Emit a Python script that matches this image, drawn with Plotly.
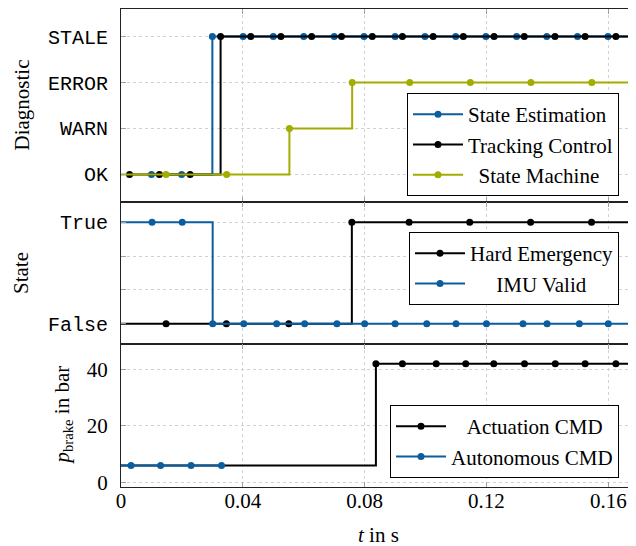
import plotly.graph_objects as go

# ---------------- data ----------------
# Diagnostic panel: 0=OK, 1=WARN, 2=ERROR, 3=STALE
diag_ticktext = ["OK", "WARN", "ERROR", "STALE"]

t_state_est = [0.0100, 0.0199, 0.0300, 0.0401, 0.0500, 0.0600, 0.0700, 0.0798, 0.0900,
               0.0998, 0.1099, 0.1198, 0.1299, 0.1398, 0.1499, 0.1599, 0.1699]
diag_state_est = [0, 0, 3, 3, 3, 3, 3, 3, 3, 3, 3, 3, 3, 3, 3, 3, 3]

t_tracking = [0.0028, 0.0126, 0.0227, 0.0327, 0.0426, 0.0525, 0.0626, 0.0724, 0.0825,
              0.0924, 0.1025, 0.1124, 0.1225, 0.1324, 0.1425, 0.1524, 0.1625, 0.1725]
diag_tracking = [0, 0, 0, 3, 3, 3, 3, 3, 3, 3, 3, 3, 3, 3, 3, 3, 3, 3]

t_state_machine = [-0.0052, 0.0148, 0.0347, 0.0553, 0.0759, 0.0948, 0.1147, 0.1346, 0.1546, 0.1746]
diag_state_machine = [0, 0, 0, 1, 2, 2, 2, 2, 2, 2]

# State panel: 0=False, 1=True
state_tickvals = [0, 1]
state_ticktext = ["False", "True"]
state_minor_grid = [1 / 3, 2 / 3]

t_hard_emergency = [-0.0052, 0.0148, 0.0346, 0.0551, 0.0758, 0.0946, 0.1145, 0.1345, 0.1545, 0.1745]
state_hard_emergency = [0, 0, 0, 0, 1, 1, 1, 1, 1, 1]

t_imu_valid = [-0.0098, 0.0102, 0.0201, 0.0301, 0.0403, 0.0511, 0.0603, 0.0709, 0.0800,
               0.0900, 0.1004, 0.1100, 0.1200, 0.1320, 0.1399, 0.1505, 0.1600, 0.1697]
state_imu_valid = [1, 1, 1, 0, 0, 0, 0, 0, 0, 0, 0, 0, 0, 0, 0, 0, 0, 0]

# Brake pressure panel (bar)
t_actuation = [-0.0067, 0.0837, 0.0924, 0.1035, 0.1132, 0.1224, 0.1325, 0.1426, 0.1524, 0.1625, 0.1725]
p_actuation = [6, 42, 42, 42, 42, 42, 42, 42, 42, 42, 42]

t_autonomous = [-0.0067, 0.0033, 0.0130, 0.0230, 0.0330]
p_autonomous = [6, 6, 6, 6, 6]

x_ticks = [0, 0.04, 0.08, 0.12, 0.16]
x_ticktext = ["0", "0.04", "0.08", "0.12", "0.16"]
p_ticks = [0, 20, 40]

# ---------------- style ----------------
BLUE = "#0b5d9e"
YEL = "#a2ad00"
BLK = "#000000"
SERIF = "Liberation Serif"
MONO = "Liberation Mono"
NB = "\u00a0"

fig = go.Figure()


def add(t, v, name, color, xa, ya, legend):
    fig.add_trace(go.Scatter(
        x=t, y=v, name=name, mode="lines+markers",
        line=dict(color=color, width=2, shape="hv"),
        marker=dict(size=7, color=color),
        xaxis=xa, yaxis=ya, legend=legend, cliponaxis=True,
        hoverinfo="skip"))


add(t_state_est, diag_state_est, "State Estimation", BLUE, "x", "y", "legend")
add(t_tracking, diag_tracking, "Tracking Control", BLK, "x", "y", "legend")
add(t_state_machine, diag_state_machine, NB * 2 + "State Machine", YEL, "x", "y", "legend")

add(t_hard_emergency, state_hard_emergency, "Hard Emergency", BLK, "x2", "y2", "legend2")
add(t_imu_valid, state_imu_valid, NB * 5 + "IMU Valid", BLUE, "x2", "y2", "legend2")

add(t_actuation, p_actuation, NB * 3 + "Actuation CMD", BLK, "x3", "y3", "legend3")
add(t_autonomous, p_autonomous, "Autonomous CMD", BLUE, "x3", "y3", "legend3")

XR = [0, 0.1691]
GRID = "#d2d2d2"
TICKC = "#a0a0a0"

xbase = dict(range=XR, tickvals=x_ticks, ticktext=x_ticktext, showgrid=True, gridcolor=GRID,
             griddash="dot", gridwidth=1, showline=True, linecolor="#222", linewidth=1,
             mirror="ticks", ticks="inside", ticklen=5, tickcolor=TICKC, zeroline=False,
             tickfont=dict(family=SERIF, size=21, color="black"), domain=[0, 1])
ybase = dict(showgrid=True, gridcolor=GRID, griddash="dot", gridwidth=1, showline=True,
             linecolor="#222", linewidth=1, mirror=False, ticks="inside", ticklen=5,
             tickcolor=TICKC, zeroline=False, ticklabelstandoff=8)

H_TOP, H_MID, H_BOT = 193, 142, 143
TOT = H_TOP + H_MID + H_BOT
d1 = H_BOT / TOT
d2 = (H_BOT + H_MID) / TOT

legbase = dict(bgcolor="white", bordercolor="black", borderwidth=1,
               font=dict(family=SERIF, size=21, color="black"), itemwidth=50,
               tracegroupgap=0, xanchor="right", yanchor="bottom", x=0.967)

# page body adds an 8px offset, so the figure is 8px smaller and shifted
fig.update_layout(
    width=628, height=538,
    margin=dict(l=113, r=0, t=1, b=59),
    paper_bgcolor="white", plot_bgcolor="white",
    font=dict(family=SERIF, size=21, color="black"),
    xaxis=dict(xbase, anchor="y", showticklabels=False),
    xaxis2=dict(xbase, anchor="y2", showticklabels=False),
    xaxis3=dict(xbase, anchor="y3", showticklabels=True, ticklabelstandoff=-5),
    yaxis=dict(ybase, domain=[d2, 1], range=[-0.6, 3.6], tickvals=[0, 1, 2, 3],
               ticktext=diag_ticktext, tickfont=dict(family=MONO, size=20, color="black"),
               anchor="x"),
    yaxis2=dict(ybase, domain=[d1, d2], range=[-0.2, 1.2], tickvals=state_tickvals,
                ticktext=state_ticktext, tickfont=dict(family=MONO, size=20, color="black"),
                anchor="x2",
                minor=dict(tickvals=state_minor_grid, showgrid=True, gridcolor=GRID,
                           griddash="dot", gridwidth=1, ticks="inside", ticklen=5,
                           tickcolor=TICKC)),
    yaxis3=dict(ybase, domain=[0, d1], range=[-1.6, 49], tickvals=p_ticks,
                tickfont=dict(family=SERIF, size=21, color="black"), anchor="x3"),
    legend=dict(legbase, y=(487 - 196) / TOT),
    legend2=dict(legbase, y=(487 - 305) / TOT),
    legend3=dict(legbase, y=(487 - 478) / TOT),
    showlegend=True,
)

annos = [
    dict(text="Diagnostic", x=(21 - 121) / 515, y=(d2 + 1) / 2, textangle=-90),
    dict(text="State", x=(21 - 121) / 515, y=(d1 + d2) / 2, textangle=-90),
    dict(text="<i>p</i><sub>brake</sub> in bar", x=(62 - 121) / 515, y=d1 / 2, textangle=-90),
    dict(text="<i>t</i> in s", x=0.5, y=(487 - 535) / TOT, textangle=0),
]
for a in annos:
    fig.add_annotation(xref="paper", yref="paper", showarrow=False, xanchor="center",
                       yanchor="middle", font=dict(family=SERIF, size=21, color="black"), **a)

fig.write_html("out.html")
